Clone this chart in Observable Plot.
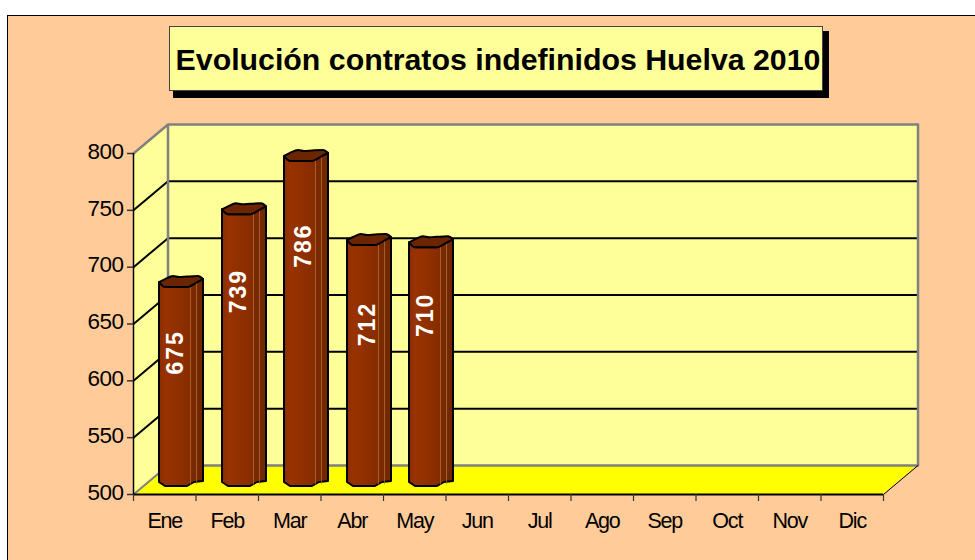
<!DOCTYPE html>
<html><head><meta charset="utf-8">
<script src="https://cdn.jsdelivr.net/npm/d3@7"></script>
<script src="https://cdn.jsdelivr.net/npm/@observablehq/plot@0.6"></script>
<style>
html,body{margin:0;padding:0;background:#fff;overflow:hidden}
#panel{position:absolute;left:7px;top:15px;width:968px;height:545px;background:#ffcc99;border-top:1.5px solid #000;border-left:1.5px solid #000;box-sizing:border-box}
#title{position:absolute;left:169px;top:26px;width:654px;height:65px;box-sizing:border-box;background:#ffff99;border:1px solid #444;box-shadow:5px 6px 0 1px #000;font:bold 30.3px "Liberation Sans",Arial,sans-serif;color:#000;display:flex;align-items:center;justify-content:center;white-space:nowrap;padding:2px 0 0 4px}
#chart{position:absolute;left:0;top:0}
#chart .barval text{letter-spacing:2px}
#chart .ylab text{letter-spacing:-.5px}
#chart .xlab text{letter-spacing:-1.2px}
</style></head><body>
<div id="panel"></div>
<div id="chart"></div>
<div id="title">Evolución contratos indefinidos Huelva 2010</div>
<script>
const months = ["Ene","Feb","Mar","Abr","May","Jun","Jul","Ago","Sep","Oct","Nov","Dic"];
const values = [675,739,786,712,710];
const yTicks = [500,550,600,650,700,750,800];

// layout (pixel sizes turned into scale units)
const W=975,H=560, L=133,R=883, B=494,T=153;
const ux=12/(R-L), uy=300/(B-T);
const depthX=34.5*ux, depthY=29*uy;
const barLeft=[159,222,284,347,409].map((p,i)=>(p-L)*ux);
const baseY=500+8*uy, topLift=8*uy;
const labelY=[625,679,719,650,658];
const labelDx=[16,16,19,20,16];

const bodyDx=[0,6,28,35,44], bodyTop=[-5,0,0,-3.5,-8], bodyBot=[-4,0,0,-4,-5];
const capDx=[0,6,14,20,28,39,44], capLow=[-5,0,0,0,0,-5.5,-8], capHigh=[-5,-8,-11,-10,-10.5,-11,-8];
const facetDx=[31,37];

const body=values.flatMap((v,i)=>bodyDx.map((d,k)=>({i,x:barLeft[i]+d*ux,y1:baseY-bodyBot[k]*uy,y2:v+topLift-bodyTop[k]*uy})));
const cap=values.flatMap((v,i)=>capDx.map((d,k)=>({i,x:barLeft[i]+d*ux,y1:v+topLift-capLow[k]*uy,y2:v+topLift-capHigh[k]*uy})));
const facets=values.flatMap((v,i)=>facetDx.map(d=>({x:barLeft[i]+d*ux,y1:baseY+2*uy,y2:v+topLift+(d===31?2:5)*uy})));
const labels=values.map((v,i)=>({t:String(v),x:barLeft[i]+labelDx[i]*ux,y:labelY[i]}));

const floor=[
 {x:0,y1:500,y2:500},
 {x:depthX,y1:500,y2:500+depthY},
 {x:12,y1:500,y2:500+depthY},
 {x:12+depthX,y1:500+depthY,y2:500+depthY}];
const sideWall=[{x:0,y1:500,y2:800},{x:depthX,y1:500+depthY,y2:800+depthY}];

const gradient=()=>{
  const s=d3.create("svg:defs");
  const g=s.append("linearGradient").attr("id","barGrad");
  [[0,"#8a2d00"],[.14,"#993300"],[.45,"#8f2f00"],[.69,"#862c00"],[.72,"#7a2a00"],[1,"#702700"]]
    .forEach(([o,c])=>g.append("stop").attr("offset",o).attr("stop-color",c));
  return s.node();
};

const plot=Plot.plot({
  width:W,height:H,
  marginLeft:L,marginRight:W-R,marginTop:T,marginBottom:H-B,
  style:{background:"transparent",overflow:"visible",fontFamily:"'Liberation Sans',Arial,sans-serif"},
  x:{type:"linear",domain:[0,12]},
  y:{type:"linear",domain:[500,800]},
  marks:[
    gradient,
    // walls and floor
    Plot.rect([0],{x1:depthX,x2:12+depthX,y1:500+depthY,y2:800+depthY,fill:"#ffff99"}),
    Plot.areaY(sideWall,{x:"x",y1:"y1",y2:"y2",fill:"#ffff99"}),
    Plot.areaY(floor,{x:"x",y1:"y1",y2:"y2",fill:"#ffff00"}),
    // back gridlines and their side-wall continuation
    Plot.link(yTicks.slice(1,-1),{x1:depthX,x2:12+depthX,y1:d=>d+depthY,y2:d=>d+depthY,stroke:"#000",strokeWidth:2}),
    Plot.link(yTicks.slice(1,-1),{x1:0,x2:depthX,y1:d=>d,y2:d=>d+depthY,stroke:"#000",strokeWidth:2}),
    // grey wall edges
    Plot.line([[0,800],[depthX,800+depthY],[12+depthX,800+depthY],[12+depthX,500+depthY],[depthX,500+depthY],[depthX,800+depthY]],{stroke:"#808080",strokeWidth:2.5}),
    Plot.line([[0,500],[depthX,500+depthY]],{stroke:"#808080",strokeWidth:2}),
    Plot.line([[12,500],[12+depthX,500+depthY]],{stroke:"#000",strokeWidth:1}),
    // columns
    Plot.areaY(body,{x:"x",y1:"y1",y2:"y2",z:"i",fill:"url(#barGrad)",stroke:"#000",strokeWidth:2,strokeLinejoin:"round"}),
    Plot.link(facets,{x1:"x",x2:"x",y1:"y1",y2:"y2",stroke:"#c8803a",strokeWidth:1,strokeOpacity:.6}),
    Plot.areaY(cap,{x:"x",y1:"y1",y2:"y2",z:"i",curve:"monotone-x",fill:"#6b2500",stroke:"#000",strokeWidth:2,strokeLinejoin:"round"}),
    Plot.text(labels,{x:"x",y:"y",text:"t",rotate:-90,fill:"#fff",fontSize:23,fontWeight:"bold",className:"barval"}),
    // axes
    Plot.ruleY([500],{stroke:"#000",strokeWidth:2}),
    Plot.ruleX([0],{stroke:"#000",strokeWidth:1.5}),
    Plot.axisY({ticks:yTicks,tickSize:6,text:null,label:null,stroke:"#333",strokeWidth:1.5}),
    Plot.axisY({ticks:yTicks,tickSize:0,tickPadding:10,dy:-2,fontSize:22.5,label:null,fill:"#000",className:"ylab"}),
    Plot.ruleX(d3.range(13),{y1:500,y2:500-7*uy,stroke:"#333",strokeWidth:1.2}),
    Plot.axisX(months.map((m,i)=>i+.5),{tickSize:0,tickPadding:18,tickFormat:d=>months[Math.floor(d)],fontSize:21.5,label:null,fill:"#000",className:"xlab"})
  ]
});
document.getElementById("chart").append(plot);
</script></body></html>
